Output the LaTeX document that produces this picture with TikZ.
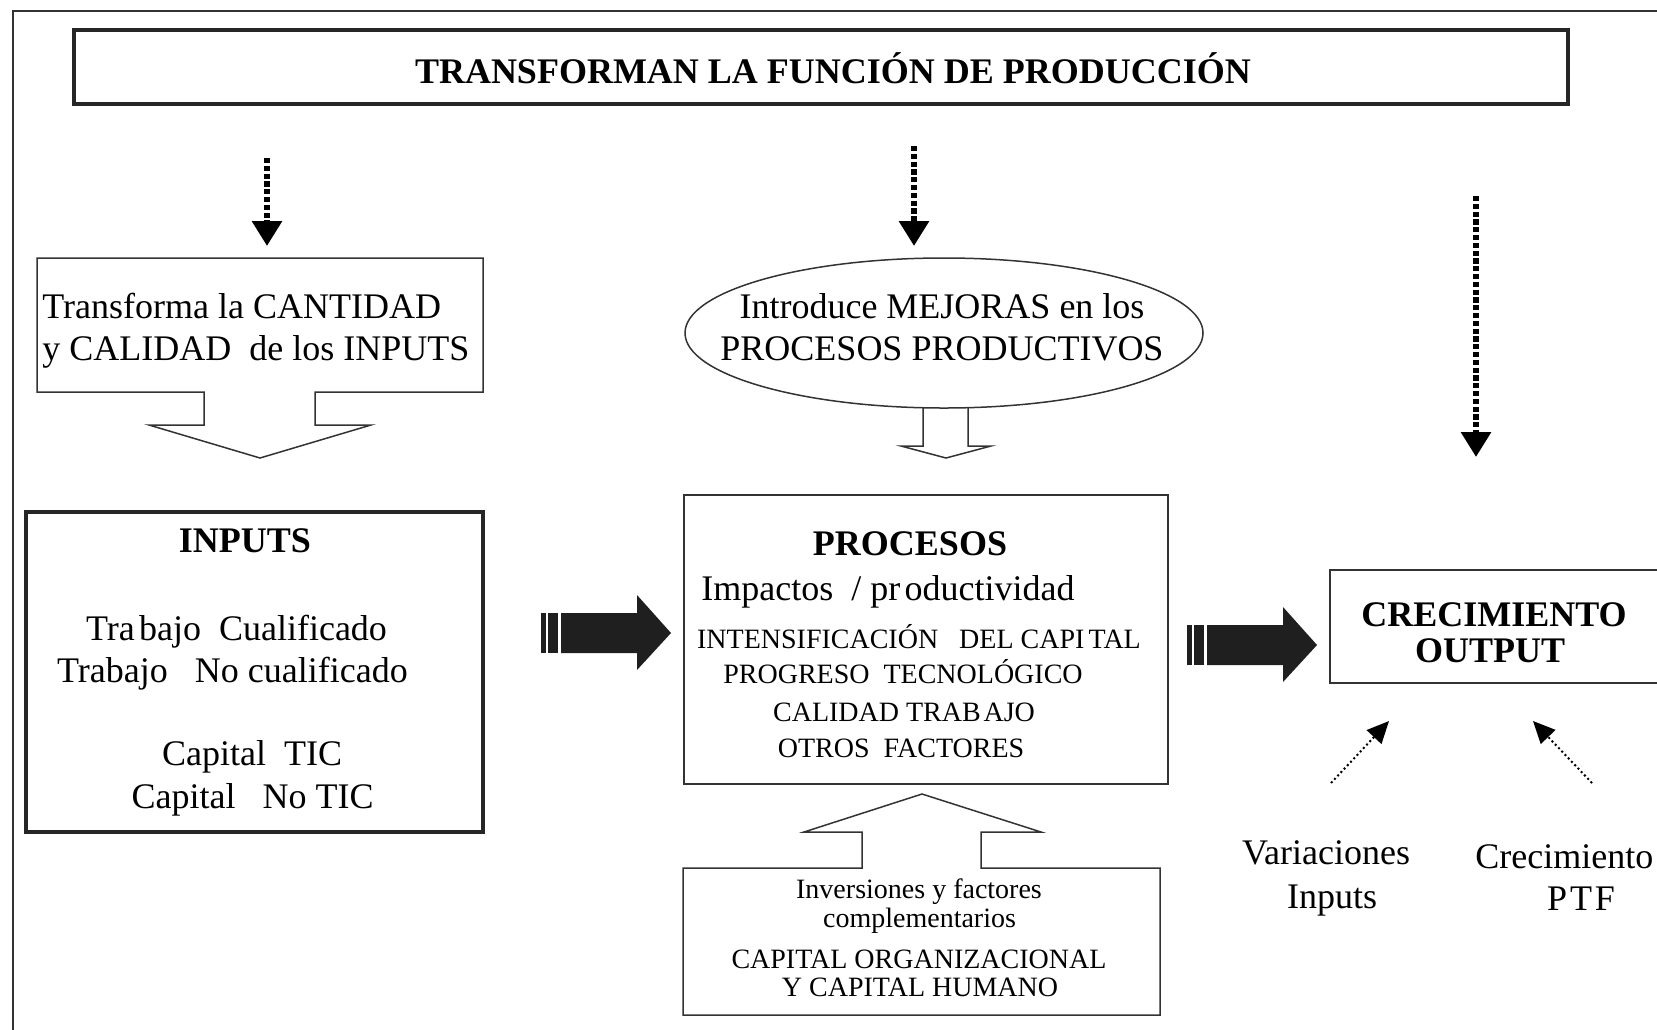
\documentclass[tikz,border=0pt]{standalone}
\usepackage{fontspec}
\setmainfont{Liberation Serif}
\usetikzlibrary{arrows.meta,shapes.geometric}
\definecolor{ln}{HTML}{333333}
\begin{document}
\begin{tikzpicture}[x=0.5pt,y=-0.5pt,
  box/.style={draw=ln,line width=0.75pt,inner sep=0pt},
  thickbox/.style={draw=black!85,line width=1.6pt,inner sep=0pt},
  txt/.style={font=\fontsize{18}{21}\selectfont, inner sep=0pt, anchor=base},
  txtb/.style={font=\fontsize{18}{21}\selectfont\bfseries, inner sep=0pt, anchor=base},
  txts/.style={font=\fontsize{14}{16}\selectfont, inner sep=0pt, anchor=base},
  thickdot/.style={line width=3pt, dash pattern=on 2.6pt off 1.3pt, -{Triangle[width=14.5pt,length=12.5pt]}},
  finedot/.style={line width=1pt, dash pattern=on 1pt off 1.35pt, -{Triangle[width=10pt,length=11pt]}},
  blockarrow/.style={draw=ln,line width=0.75pt,line join=miter},
  striped/.style={fill=black!88}
]
\useasboundingbox (0,0) rectangle (1657,1029);
\clip (0,0) rectangle (1657,1029);

% outer frame (only top and left edges visible)
\draw[line width=1pt, black!80] (13,1040) -- (13,11) -- (1670,11);

% title
\node[thickbox, minimum width=747pt, minimum height=37pt] (title) at (821,67) {};
\node[txtb] (titletxt) at (833,83) {TRANSFORMAN LA FUNCIÓN DE PRODUCCIÓN};

% thick dotted arrows
\coordinate (d1s) at (267,158); \coordinate (d1e) at (267,246);
\coordinate (d2s) at (914,146); \coordinate (d2e) at (914,246);
\coordinate (d3s) at (1476,196); \coordinate (d3e) at (1476,457);
\draw[thickdot] (d1s) -- (d1e);
\draw[thickdot] (d2s) -- (d2e);
\draw[thickdot] (d3s) -- (d3e);

% transform callout (down arrow)
\draw[blockarrow] (204,392) -- (37,392) -- (37,258) -- (483,258) -- (483,392) -- (315,392)
  -- (315,425) -- (371,425) -- (260,458) -- (149,425) -- (204,425) -- cycle;
\node[txt, anchor=base west] (tr1) at (42,318) {Transforma la CANTIDAD};
\node[txt, anchor=base west] (tr2) at (42,360) {y CALIDAD\ \ de los INPUTS};

% ellipse
\node[draw=ln, line width=0.75pt, ellipse, minimum width=259pt, minimum height=75pt, inner sep=0pt] (ell) at (944,333) {};
\node[txt] (el1) at (942,318) {Introduce MEJORAS en los};
\node[txt] (el2) at (942,360) {PROCESOS PRODUCTIVOS};
\draw[blockarrow] (923,407.5) -- (923,446) -- (901,446) -- (946,458) -- (991,446) -- (968,446) -- (968,407.5);

% INPUTS box
\node[thickbox, minimum width=228.5pt, minimum height=160pt] (inputs) at (254.5,672) {};
\node[txtb] (inh) at (245,552) {INPUTS};
\node[txt] (in1) at (236.5,640) {Tra\hspace{0.12em}bajo\ \ Cualificado};
\node[txt] (in2) at (232.5,682) {Trabajo\ \ \ No cualificado};
\node[txt] (in3) at (252,765) {Capital\ \ TIC};
\node[txt] (in4) at (252.5,808) {Capital\ \ \ No TIC};

% striped arrow 1
\begin{scope}[shift={(541,633)}]
\fill[striped] (0,-20) rectangle (5,20);
\fill[striped] (7,-20) rectangle (17,20);
\fill[striped] (20,-20) -- (96,-20) -- (96,-38) -- (130,0) -- (96,37) -- (96,20) -- (20,20) -- cycle;
\end{scope}

% PROCESOS box
\node[box, minimum width=242pt, minimum height=144.5pt] (proc) at (926,639.5) {};
\node[txtb] (p0) at (910,555) {PROCESOS};
\node[txt] (p1) at (888,600) {Impactos\ \ / pr\hspace{0.12em}oductividad};
\node[txts] (p2) at (919,648) {INTENSIFICACIÓN\ \ \ DEL CAPI\hspace{0.15em}TAL};
\node[txts] (p3) at (903,683) {PROGRESO\ \ TECNOLÓGICO};
\node[txts] (p4) at (904,721) {CALIDAD TRAB\hspace{0.1em}AJO};
\node[txts] (p5) at (901,757) {OTROS\ \ FACTORES};

% striped arrow 2
\begin{scope}[shift={(1187,645)}]
\fill[striped] (0,-20) rectangle (5,20);
\fill[striped] (7,-20) rectangle (17,20);
\fill[striped] (20,-20) -- (96,-20) -- (96,-38) -- (130,0) -- (96,37) -- (96,20) -- (20,20) -- cycle;
\end{scope}

% CRECIMIENTO OUTPUT box
\node[box, minimum width=185pt, minimum height=56.5pt] (out) at (1515,626.5) {};
\node[txtb] (o1) at (1494,626) {CRECIMIENTO};
\node[txtb] (o2) at (1490,662) {OUTPUT};

% fine dotted arrows
\coordinate (v1s) at (1331,783); \coordinate (v1e) at (1389,721);
\coordinate (v2s) at (1592,783); \coordinate (v2e) at (1533,721);
\draw[finedot] (v1s) -- (v1e);
\draw[finedot] (v2s) -- (v2e);
\node[txt] (va1) at (1326,864) {Variaciones};
\node[txt] (va2) at (1332,908) {Inputs};
\node[txt, anchor=base west] (cp1) at (1475,868) {Crecimiento};
\node[txt] (cp2) at (1581,910) {P\hspace{0.08em}T\hspace{0.08em}F};

% bottom callout (up arrow)
\draw[blockarrow] (862,868) -- (683,868) -- (683,1015) -- (1160,1015) -- (1160,868) -- (981,868)
  -- (981,832) -- (1041,832) -- (922,794) -- (804,832) -- (862,832) -- cycle;
\node[txts] (b1) at (919,898) {Inversiones y factores};
\node[txts] (b2) at (919.5,927) {complementarios};
\node[txts] (b3) at (919,968) {CAPITAL ORGANIZACIONAL};
\node[txts] (b4) at (920,996) {Y CAPITAL HUMANO};
\end{tikzpicture}
\end{document}
